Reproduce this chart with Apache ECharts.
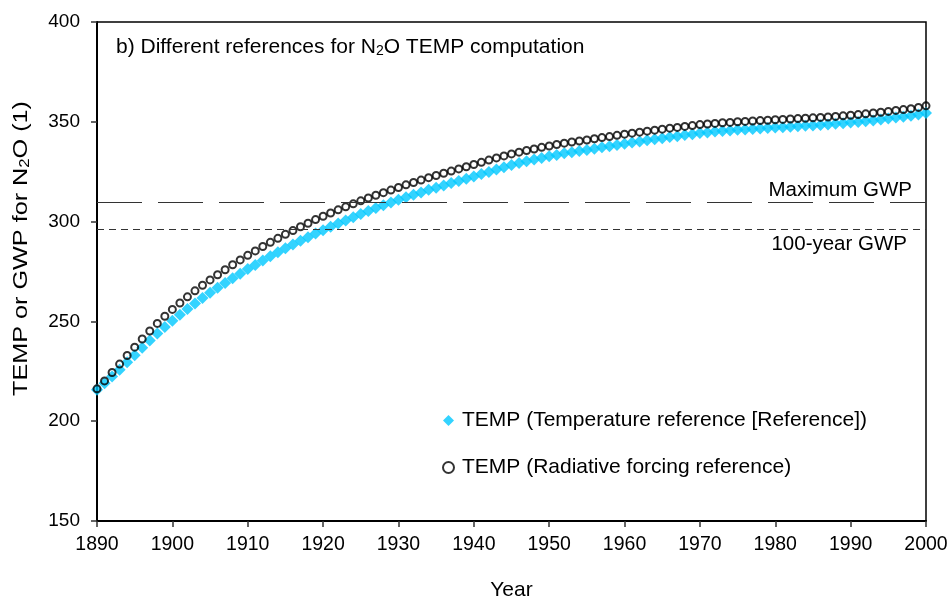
<!DOCTYPE html>
<html>
<head>
<meta charset="utf-8">
<script src="https://cdn.jsdelivr.net/npm/echarts@6/dist/echarts.min.js"></script>
<style>html,body{margin:0;padding:0;background:#fff;}#c{width:952px;height:606px;}</style>
</head>
<body>
<div id="c"></div>
<script>
// Years 1890..2000 (one point per year)
const years = [1890,1891,1892,1893,1894,1895,1896,1897,1898,1899,1900,1901,1902,1903,1904,1905,1906,1907,1908,1909,1910,1911,1912,1913,1914,1915,1916,1917,1918,1919,1920,1921,1922,1923,1924,1925,1926,1927,1928,1929,1930,1931,1932,1933,1934,1935,1936,1937,1938,1939,1940,1941,1942,1943,1944,1945,1946,1947,1948,1949,1950,1951,1952,1953,1954,1955,1956,1957,1958,1959,1960,1961,1962,1963,1964,1965,1966,1967,1968,1969,1970,1971,1972,1973,1974,1975,1976,1977,1978,1979,1980,1981,1982,1983,1984,1985,1986,1987,1988,1989,1990,1991,1992,1993,1994,1995,1996,1997,1998,1999,2000];

// TEMP (Temperature reference [Reference])
const tempRef = [215.7,219.0,222.4,225.8,229.5,233.1,236.8,240.4,243.9,247.2,250.3,253.3,256.2,259.0,261.7,264.3,266.8,269.2,271.6,273.9,276.2,278.3,280.5,282.6,284.6,286.6,288.5,290.4,292.2,294.0,295.7,297.4,299.0,300.6,302.2,303.8,305.3,306.8,308.2,309.6,310.9,312.2,313.4,314.6,315.9,317.0,318.1,319.3,320.4,321.5,322.6,323.8,324.9,326.1,327.2,328.3,329.3,330.2,331.1,331.9,332.7,333.4,334.2,334.8,335.4,335.9,336.5,337.2,337.7,338.4,339.0,339.6,340.1,340.7,341.2,341.8,342.4,342.8,343.4,343.8,344.4,344.7,345.1,345.4,345.6,346.0,346.2,346.4,346.6,346.9,347.1,347.3,347.5,347.8,348.0,348.2,348.4,348.6,349.0,349.3,349.6,349.9,350.3,350.7,351.1,351.6,352.1,352.5,353.0,353.6,354.4];

// TEMP (Radiative forcing reference)
const tempRF = [216.2,220.2,224.4,228.6,232.9,237.1,241.2,245.2,249.0,252.6,256.0,259.2,262.3,265.3,268.1,270.8,273.4,275.9,278.4,280.8,283.1,285.3,287.5,289.6,291.6,293.6,295.5,297.4,299.2,301.0,302.7,304.3,305.9,307.4,308.9,310.4,311.8,313.2,314.5,315.8,317.1,318.4,319.6,320.8,322.0,323.1,324.2,325.3,326.4,327.5,328.6,329.7,330.8,331.9,332.9,333.9,334.8,335.6,336.4,337.2,337.9,338.6,339.3,339.9,340.4,340.9,341.5,342.1,342.6,343.2,343.8,344.3,344.8,345.3,345.8,346.3,346.8,347.2,347.7,348.1,348.6,348.9,349.2,349.5,349.7,350.0,350.2,350.4,350.6,350.8,351.0,351.2,351.4,351.6,351.8,352.0,352.2,352.4,352.7,353.0,353.3,353.6,354.0,354.4,354.8,355.2,355.7,356.1,356.6,357.2,358.0];

// Reference GWP levels
const maxGWP = 309.5;
const gwp100 = 296;

const seriesNames = ['TEMP (Temperature reference [Reference])', 'TEMP (Radiative forcing reference)'];
const xTicks = {min: 1890, max: 2000, interval: 10};
const yTicks = {min: 150, max: 400, interval: 50};

const FONT = '"Liberation Sans", Arial, sans-serif';
const chart = echarts.init(document.getElementById('c'), null, {renderer: 'canvas'});

const pair = (arr) => years.map((y, i) => [y, arr[i]]);

chart.setOption({
  animation: false,
  backgroundColor: '#fff',
  textStyle: {fontFamily: FONT},
  title: {
    text: 'b) Different references for N{sub|2}O TEMP computation',
    left: 111, top: 32,
    textStyle: {
      fontFamily: FONT, fontSize: 21, fontWeight: 'normal', color: '#000', lineHeight: 21,
      rich: {sub: {fontFamily: FONT, fontSize: 14, verticalAlign: 'bottom', lineHeight: 12, color: '#000'}}
    }
  },
  grid: {left: 97, right: 26, top: 22, bottom: 79, show: true, borderColor: '#000', borderWidth: 1.5},
  legend: {
    orient: 'vertical', left: 437, top: 405, itemGap: 26,
    itemWidth: 11, itemHeight: 11,
    textStyle: {fontFamily: FONT, fontSize: 21, color: '#000', padding: [0, 0, 0, 3]},
    data: [
      {name: seriesNames[0], icon: 'diamond', itemStyle: {color: '#00C8FF', borderWidth: 0}},
      {name: seriesNames[1], icon: 'circle', itemStyle: {color: '#fff', borderColor: '#000', borderWidth: 2}}
    ]
  },
  graphic: [{
    type: 'text', left: 11, top: 101, z: 10,
    rotation: Math.PI / 2, scaleX: 1.2,
    style: {
      text: 'TEMP or GWP for N{sub|2}O (1)',
      font: '21px "Liberation Sans", Arial, sans-serif', fill: '#000',
      rich: {sub: {fontSize: 14, fontFamily: FONT, verticalAlign: 'bottom', lineHeight: 12, fill: '#000'}}
    }
  }],
  xAxis: {
    type: 'value', min: xTicks.min, max: xTicks.max, interval: xTicks.interval,
    name: 'Year', nameLocation: 'middle', nameGap: 59,
    nameTextStyle: {fontFamily: FONT, fontSize: 21, color: '#000'},
    axisLine: {lineStyle: {color: '#000', width: 2}},
    axisTick: {show: true, inside: false, length: 6, lineStyle: {color: '#333', width: 1.5}},
    axisLabel: {fontFamily: FONT, fontSize: 19.5, color: '#000', margin: 14, formatter: (v) => String(v)},
    splitLine: {show: false}
  },
  yAxis: {
    type: 'value', min: yTicks.min, max: yTicks.max, interval: yTicks.interval,
    axisLine: {show: true, lineStyle: {color: '#000', width: 2}},
    axisTick: {show: true, inside: false, length: 6, lineStyle: {color: '#333', width: 1.5}},
    axisLabel: {fontFamily: FONT, fontSize: 19, color: '#000', margin: 17},
    splitLine: {show: false}
  },
  series: [
    {
      name: seriesNames[0], type: 'scatter', data: pair(tempRef),
      symbol: 'diamond', symbolSize: 12,
      itemStyle: {color: '#00C8FF'}, z: 2,
      markLine: {
        silent: true, symbol: 'none', animation: false,
        data: [
          {yAxis: maxGWP, lineStyle: {color: '#333', width: 1, type: [45, 16]},
           label: {show: true, position: 'insideEndTop', formatter: 'Maximum GWP', fontFamily: FONT, fontSize: 20.5, color: '#000', distance: [14, 2]}},
          {yAxis: gwp100, lineStyle: {color: '#333', width: 1, type: [7, 5]},
           label: {show: true, position: 'insideEndBottom', formatter: '100-year GWP', fontFamily: FONT, fontSize: 20.5, color: '#000', distance: [19, 4]}}
        ]
      }
    },
    {
      name: seriesNames[1], type: 'scatter', data: pair(tempRF),
      symbol: 'circle', symbolSize: 7,
      itemStyle: {color: 'rgba(0,0,0,0)', borderColor: '#000', borderWidth: 2}, z: 3
    }
  ]
});
</script>
</body>
</html>
